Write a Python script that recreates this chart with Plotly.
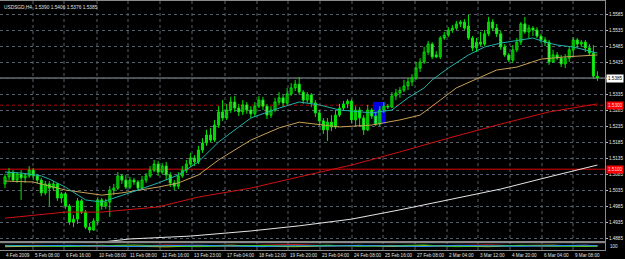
import plotly.graph_objects as go

# ---------------- data (prices in 1e-4 units, i.e. pips) ----------------
open_pips = [
    15054, 15076, 15091, 15066, 15085, 15073, 15079, 15097, 15079, 15066,
    15026, 15054, 15041, 15054, 15010, 15023, 14985, 14935, 14944, 15001,
    14966, 14919, 14910, 14938, 15004, 14985, 14997, 15035, 15041, 15079,
    15066, 15044, 15066, 15060, 15041, 15066, 15079, 15097, 15116, 15091,
    15110, 15082, 15057, 15047, 15079, 15097, 15116, 15135, 15123, 15160,
    15182, 15207, 15191, 15238, 15279, 15260, 15285, 15310, 15291, 15279,
    15301, 15285, 15273, 15297, 15316, 15297, 15269, 15285, 15310, 15323,
    15307, 15335, 15354, 15366, 15341, 15316, 15332, 15307, 15276, 15251,
    15223, 15247, 15232, 15269, 15291, 15304, 15313, 15254, 15285, 15260,
    15223, 15285, 15266, 15241, 15285, 15297, 15294, 15329, 15338, 15347,
    15360, 15373, 15385, 15416, 15435, 15466, 15491, 15457, 15451, 15510,
    15519, 15535, 15541, 15554, 15560, 15547, 15510, 15479, 15497, 15491,
    15523, 15560, 15541, 15523, 15482, 15457, 15441, 15473, 15497, 15554,
    15529, 15541, 15535, 15516, 15504, 15497, 15435, 15457, 15447, 15429,
    15447, 15473, 15504, 15491, 15497, 15479, 15463, 15390]
high_pips = [
    15085, 15104, 15097, 15091, 15097, 15088, 15110, 15104, 15085, 15073,
    15063, 15063, 15063, 15057, 15029, 15029, 14991, 14957, 15010, 15007,
    14973, 14932, 14947, 15013, 15010, 15007, 15047, 15054, 15091, 15085,
    15082, 15076, 15073, 15066, 15079, 15088, 15110, 15129, 15126, 15119,
    15123, 15091, 15066, 15091, 15110, 15129, 15151, 15144, 15173, 15197,
    15223, 15229, 15254, 15297, 15316, 15304, 15326, 15329, 15304, 15316,
    15310, 15297, 15310, 15329, 15326, 15304, 15297, 15323, 15341, 15332,
    15354, 15369, 15379, 15388, 15347, 15341, 15338, 15316, 15285, 15260,
    15260, 15269, 15285, 15304, 15313, 15319, 15319, 15297, 15294, 15269,
    15301, 15291, 15279, 15297, 15310, 15304, 15341, 15351, 15357, 15379,
    15385, 15397, 15435, 15447, 15482, 15501, 15497, 15469, 15516, 15529,
    15544, 15551, 15563, 15566, 15569, 15582, 15516, 15510, 15529, 15535,
    15576, 15569, 15554, 15532, 15491, 15463, 15488, 15510, 15560, 15576,
    15551, 15547, 15544, 15523, 15513, 15504, 15473, 15466, 15457, 15460,
    15485, 15513, 15510, 15504, 15504, 15491, 15488, 15406]
low_pips = [
    15041, 15066, 15060, 15057, 15004, 15057, 15073, 15066, 15054, 15016,
    15019, 14985, 15032, 15001, 14994, 14976, 14926, 14919, 14929, 14960,
    14913, 14901, 14907, 14926, 14973, 14976, 14951, 15019, 15035, 15054,
    15038, 15038, 15051, 15032, 15035, 15057, 15073, 15091, 15079, 15085,
    15066, 15044, 15035, 15038, 15073, 15088, 15107, 15110, 15116, 15151,
    15173, 15185, 15185, 15229, 15251, 15254, 15276, 15279, 15266, 15269,
    15273, 15260, 15263, 15291, 15285, 15257, 15260, 15279, 15301, 15294,
    15301, 15329, 15344, 15332, 15304, 15307, 15294, 15263, 15235, 15210,
    15188, 15219, 15226, 15263, 15285, 15291, 15244, 15235, 15232, 15207,
    15219, 15257, 15235, 15235, 15276, 15288, 15291, 15316, 15323, 15341,
    15347, 15360, 15379, 15404, 15429, 15457, 15444, 15447, 15444, 15504,
    15513, 15526, 15535, 15544, 15535, 15504, 15469, 15466, 15485, 15485,
    15516, 15532, 15513, 15473, 15451, 15435, 15432, 15466, 15488, 15523,
    15510, 15516, 15510, 15494, 15485, 15426, 15432, 15441, 15419, 15416,
    15435, 15454, 15479, 15482, 15466, 15454, 15382, 15376]
close_pips = [
    15076, 15091, 15066, 15085, 15073, 15079, 15097, 15079, 15066, 15026,
    15054, 15041, 15054, 15010, 15023, 14985, 14935, 14944, 15001, 14966,
    14919, 14910, 14938, 15004, 14985, 14997, 15035, 15041, 15079, 15066,
    15044, 15066, 15060, 15041, 15066, 15079, 15097, 15116, 15091, 15110,
    15082, 15057, 15047, 15079, 15097, 15116, 15135, 15123, 15160, 15182,
    15207, 15191, 15238, 15279, 15260, 15285, 15310, 15291, 15279, 15301,
    15285, 15273, 15297, 15316, 15297, 15269, 15285, 15310, 15323, 15307,
    15335, 15354, 15366, 15341, 15316, 15332, 15307, 15276, 15251, 15223,
    15247, 15232, 15269, 15291, 15304, 15313, 15254, 15285, 15260, 15223,
    15285, 15266, 15241, 15285, 15297, 15294, 15329, 15338, 15347, 15360,
    15373, 15385, 15416, 15435, 15466, 15491, 15451, 15451, 15510, 15519,
    15535, 15541, 15554, 15560, 15541, 15510, 15479, 15497, 15491, 15523,
    15560, 15541, 15523, 15482, 15457, 15441, 15473, 15497, 15554, 15529,
    15541, 15535, 15516, 15504, 15497, 15435, 15457, 15447, 15429, 15447,
    15473, 15504, 15491, 15497, 15479, 15463, 15391, 15385]

# moving averages (bar index, price in pips)
ma_fast_idx = [0, 4, 9, 11, 15, 20, 24, 28, 33, 38, 43, 48, 53, 61, 68, 73, 78, 83, 91, 96,
               100, 104, 106, 110, 115, 119, 123, 131, 134, 137, 141, 147]
ma_fast = [15091, 15088, 15079, 15069, 15044, 15004, 14997, 15013, 15035, 15057, 15082, 15123,
           15185, 15260, 15291, 15310, 15301, 15285, 15276, 15285, 15323, 15354, 15379, 15416,
           15457, 15482, 15494, 15510, 15497, 15488, 15482, 15463]
ma_mid_idx = [0, 7, 15, 24, 29, 38, 43, 48, 53, 61, 68, 73, 83, 91, 98, 103, 108, 112, 122,
              127, 133, 139, 147]
ma_mid = [15063, 15060, 15035, 15019, 15026, 15044, 15057, 15082, 15129, 15191, 15229, 15247,
          15232, 15238, 15254, 15269, 15316, 15354, 15410, 15419, 15444, 15451, 15457]
ma_slow_idx = [0, 15, 24, 38, 48, 61, 73, 86, 98, 110, 123, 135, 147]
ma_slow = [14947, 14966, 14966, 14982, 15013, 15041, 15076, 15113, 15154, 15197, 15241,
           15279, 15304]
ma_long_idx = [15, 31, 46, 61, 73, 86, 98, 110, 123, 135, 147]
ma_long = [14860, 14882, 14891, 14907, 14923, 14944, 14973, 15004, 15038, 15076, 15113]

# lower indicator window (0..100 scale)
sub_idx = [0, 8, 16, 24, 32, 40, 48, 56, 64, 72, 80, 88, 96, 104, 112, 120, 128, 136, 144, 147]
sub_red = [55, 60, 48, 40, 52, 65, 58, 45, 62, 70, 55, 50, 60, 45, 58, 66, 52, 48, 60, 55]
sub_yellow = [40, 45, 55, 60, 45, 38, 50, 62, 45, 40, 52, 60, 42, 55, 48, 40, 58, 62, 45, 50]
sub_green = [60, 50, 42, 55, 65, 50, 40, 52, 58, 48, 62, 45, 55, 65, 40, 52, 60, 45, 55, 48]
sub_blue = [50, 55, 60, 48, 42, 55, 62, 50, 40, 55, 48, 58, 50, 42, 60, 48, 45, 55, 62, 52]

price_levels = [15585, 15535, 15485, 15435, 15385, 15335, 15285, 15235, 15185, 15135,
                15085, 15035, 14985, 14935, 14885]
time_labels = ["4 Feb 2009", "5 Feb 08:00", "6 Feb 16:00", "10 Feb 08:00", "11 Feb 08:00",
               "12 Feb 16:00", "13 Feb 23:00", "17 Feb 04:00", "18 Feb 12:00", "19 Feb 20:00",
               "23 Feb 04:00", "24 Feb 08:00", "25 Feb 16:00", "27 Feb 08:00", "2 Mar 04:00",
               "3 Mar 12:00", "4 Mar 20:00", "6 Mar 04:00", "9 Mar 08:00"]
title_text = "USDSGD,H4  1.5390 1.5406 1.5376 1.5385"
bid_price = 15385
hline_upper = 15300
hline_lower = 15100
box_x = [91.3, 94.5]
box_y = [15241, 15310]

# ---------------- layout geometry ----------------
W, H = 625, 259
ML, MR, MT, MB = 0, 20, 1, 9
PW = W - ML - MR
PH = H - MT - MB
label_px = [4, 33, 64, 97, 128, 160, 192, 225, 257, 288, 320, 352, 383, 415, 447, 478, 510,
            542, 573]

P = lambda arr: [v / 10000 for v in arr]
idx = list(range(len(close_pips)))
xr = [-1.2407, 148.88]
yr = [1.4875625, 1.5625625]
main_dom = [(250 - 241) / PH, 1]
sub_dom = [0, 8 / PH]
FONT = "Liberation Sans"
FS = 4.6
GRID = "#56606c"
LIME = "#00e600"

fig = go.Figure()

# wicks
wx, wy = [], []
for i, h, l in zip(idx, P(high_pips), P(low_pips)):
    wx += [i, i, None]
    wy += [l, h, None]
fig.add_trace(go.Scatter(x=wx, y=wy, mode="lines", line=dict(color=LIME, width=1),
                         showlegend=False, hoverinfo="skip", xaxis="x", yaxis="y"))
# bodies
o, c = P(open_pips), P(close_pips)
base = [min(a, b) for a, b in zip(o, c)]
size = [max(abs(b - a), 0.00004) for a, b in zip(o, c)]
fill = ["#ffffff" if b < a else "#001a00" for a, b in zip(o, c)]
fig.add_trace(go.Bar(x=idx, y=size, base=base, width=0.5,
                     marker=dict(color=fill, line=dict(color=LIME, width=1)),
                     showlegend=False, hoverinfo="skip", xaxis="x", yaxis="y"))

for xs, ys, col in [(ma_long_idx, ma_long, "#e6e6e6"), (ma_slow_idx, ma_slow, "#d01010"),
                    (ma_mid_idx, ma_mid, "#c8a055"), (ma_fast_idx, ma_fast, "#20b2aa")]:
    fig.add_trace(go.Scatter(x=xs, y=P(ys), mode="lines", line=dict(color=col, width=1),
                             showlegend=False, hoverinfo="skip", xaxis="x", yaxis="y"))

for ys, col in [(sub_red, "#ff2020"), (sub_yellow, "#ffd700"), (sub_green, "#32cd32"),
                (sub_blue, "#1e90ff")]:
    fig.add_trace(go.Scatter(x=sub_idx, y=ys, mode="lines", line=dict(color=col, width=1),
                             showlegend=False, hoverinfo="skip", xaxis="x2", yaxis="y2"))

shapes = []
shapes.append(dict(type="rect", xref="x", yref="y", x0=box_x[0], x1=box_x[1],
                   y0=box_y[0] / 10000, y1=box_y[1] / 10000, fillcolor="#0000e0",
                   line=dict(width=0), layer="below"))
for px in label_px[1:]:
    shapes.append(dict(type="line", xref="paper", yref="paper", x0=px / PW, x1=px / PW,
                       y0=0, y1=1, line=dict(color=GRID, width=1, dash="dot"), layer="below"))
shapes.append(dict(type="line", xref="paper", yref="y", x0=0, x1=1, y0=bid_price / 10000,
                   y1=bid_price / 10000, line=dict(color="#9a9a9a", width=1), layer="below"))
shapes.append(dict(type="line", xref="paper", yref="y", x0=0, x1=1, y0=hline_upper / 10000,
                   y1=hline_upper / 10000, line=dict(color="#b00000", width=1, dash="dot"),
                   layer="below"))
shapes.append(dict(type="line", xref="paper", yref="y", x0=0, x1=1, y0=hline_lower / 10000,
                   y1=hline_lower / 10000, line=dict(color="#e00000", width=1), layer="below"))
shapes.append(dict(type="line", xref="paper", yref="y2", x0=0, x1=1, y0=100, y1=100,
                   line=dict(color="#a0a0a0", width=1)))

ann = []
ann.append(dict(text=title_text, xref="paper", yref="paper", x=2 / PW, y=1, xanchor="left",
                yanchor="top", yshift=-2, showarrow=False,
                font=dict(family=FONT, size=FS + 0.2, color="#e0e0e0")))
for t, px in zip(time_labels, label_px):
    ann.append(dict(text=t, xref="paper", yref="paper", x=px / PW, y=0, xanchor="left",
                    yanchor="top", yshift=-1, showarrow=False,
                    font=dict(family=FONT, size=FS, color="#e0e0e0")))
ann.append(dict(text="%.4f" % (bid_price / 10000), xref="paper", yref="y", x=1,
                y=bid_price / 10000, xanchor="left", xshift=1, showarrow=False,
                bgcolor="#ffffff", borderpad=1, font=dict(family=FONT, size=FS, color="#000000")))
for lv in [hline_upper, hline_lower]:
    ann.append(dict(text="%.4f" % (lv / 10000), xref="paper", yref="y", x=1, y=lv / 10000,
                    xanchor="left", xshift=1, showarrow=False, bgcolor="#ff0000", borderpad=1,
                    font=dict(family=FONT, size=FS, color="#ffdddd")))
ann.append(dict(text="100", xref="paper", yref="y2", x=1, y=45, xanchor="left", xshift=3,
                showarrow=False, font=dict(family=FONT, size=FS, color="#e0e0e0")))

axis_common = dict(showline=True, mirror=True, linecolor="#8a8a8a", linewidth=1,
                   zeroline=False, fixedrange=True)
fig.update_layout(
    width=W, height=H, margin=dict(l=ML, r=MR, t=MT, b=MB),
    paper_bgcolor="#000000", plot_bgcolor="#000000", barmode="overlay",
    xaxis=dict(domain=[0, 1], range=xr, anchor="y", showgrid=False, showticklabels=False,
               **axis_common),
    yaxis=dict(domain=main_dom, range=yr, anchor="x", side="right",
               tickvals=P(price_levels), ticktext=["%.4f" % (v / 10000) for v in price_levels],
               tickfont=dict(family=FONT, size=FS, color="#e8e8e8"), ticks="outside",
               ticklen=2, tickcolor="#c0c0c0", showgrid=True, gridcolor=GRID, griddash="dot",
               gridwidth=1, **axis_common),
    xaxis2=dict(domain=[0, 1], range=xr, anchor="y2", showgrid=False, showticklabels=False,
                **axis_common),
    yaxis2=dict(domain=sub_dom, range=[-10, 110], anchor="x2", side="right", showgrid=False,
                showticklabels=False, **axis_common),
    shapes=shapes, annotations=ann, showlegend=False,
)
fig.write_html("out.html")
